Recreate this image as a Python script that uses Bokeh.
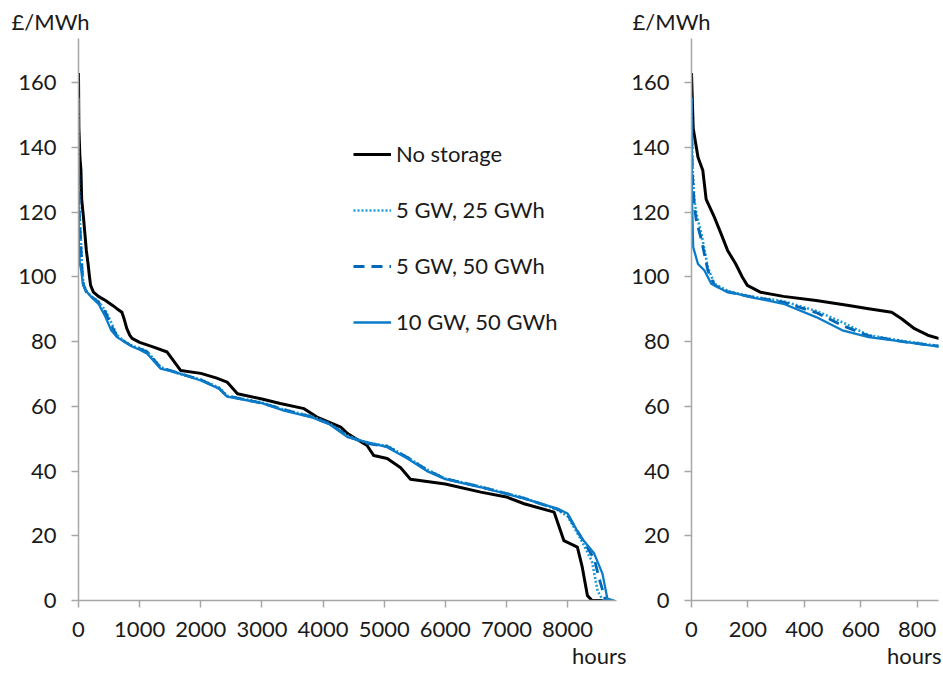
from bokeh.plotting import figure
from bokeh.layouts import row
from bokeh.models import FixedTicker, Range1d, Legend, LegendItem, Title
from bokeh.embed import file_html
from bokeh.resources import INLINE

# ---- data (hours, £/MWh) ----
no_storage_h = [0, 6, 23, 40, 52, 81, 105, 128, 157, 180, 198, 244, 326, 442, 558, 628, 710, 745, 791, 838, 876,
                1000, 1230, 1450, 1670, 2000, 2250, 2430, 2600, 3000, 3300, 3690, 3900, 4290, 4400, 4720, 4830,
                5050, 5270, 5430, 6000, 6580, 7000, 7290, 7780, 7940, 8160, 8240, 8325, 8400, 8620]
no_storage_v = [163, 146, 137, 133, 124, 118.5, 113.3, 108.2, 104, 100, 97.4, 95.3, 94, 92.7, 91.2, 90.2, 89.1, 87.1, 84, 82, 81,
                79.8, 78.3, 76.8, 71.1, 70.2, 68.8, 67.5, 63.9, 62.3, 60.9, 59.3, 56.7, 53.6, 51.6, 47.9, 44.8,
                43.9, 41, 37.5, 36, 33.5, 32, 29.9, 27.3, 18.5, 16.5, 10.3, 1.5, 0, 0]

gw5_25_h = [0, 3, 10, 17, 35, 58, 81, 130, 209, 326, 442, 535, 628, 750, 876, 1000, 1125, 1340, 1600, 2000, 2300, 2430,
            3000, 3360, 3800, 4100, 4400, 4700, 5050, 5380, 5700, 6000, 6580, 7290, 7835, 8000, 8215, 8400, 8490, 8580, 8760]
gw5_25_v = [155, 135, 124, 119.6, 113.4, 103, 97.9, 95.6, 94, 92.5, 89.5, 86, 82, 80.2, 78.7, 78, 77, 72.2, 70.3, 68.3, 65.8, 63.3,
            61.2, 59, 57, 54.8, 51, 48.8, 47.8, 44.3, 40.5, 37.7, 35.2, 31.7, 28, 26, 19, 12, 3, 0, 0]

gw5_50_h = [0, 3, 10, 17, 35, 58, 81, 130, 209, 326, 442, 535, 628, 750, 876, 1000, 1125, 1340, 1600, 2000, 2300, 2430,
            3000, 3360, 3800, 4100, 4400, 4700, 5050, 5380, 5700, 6000, 6580, 7290, 7835, 8000, 8215, 8435, 8530, 8620, 8760]
gw5_50_v = [154, 132, 122, 117.5, 111.5, 102, 97.5, 95.3, 93.9, 92.2, 89, 85, 81.8, 80, 78.6, 77.8, 76.8, 72, 70.5, 68.2, 65.5, 63.2,
            61, 59, 56.8, 54.7, 50.8, 48.6, 47.6, 44.2, 40.3, 37.6, 35.1, 31.6, 28.2, 26.5, 19.8, 12.8, 6, 0, 0]

gw10_50_h = [0, 2, 6, 23, 46, 70, 116, 209, 326, 442, 535, 628, 750, 876, 1000, 1125, 1340, 1600, 2000, 2300, 2430,
             3000, 3360, 3800, 4100, 4400, 4700, 5050, 5380, 5700, 6000, 6580, 7290, 7835, 8000, 8215, 8435, 8570, 8650, 8760]
gw10_50_v = [155.5, 123.6, 109.2, 104, 102, 97.9, 95.8, 93.8, 91.7, 87.6, 83.5, 81.4, 80, 78.5, 77.5, 76.3, 71.7, 70.5, 68, 65.5, 63,
             61, 58.7, 56.7, 54.5, 50.5, 49, 47.4, 43.9, 40, 37.5, 35, 31.5, 28.4, 26.9, 19.6, 14.5, 8.3, 0.6, 0]

series_names = ["No storage", "5 GW, 25 GWh", "5 GW, 50 GWh", "10 GW, 50 GWh"]
y_ticks = [0, 20, 40, 60, 80, 100, 120, 140, 160]
x_ticks_full = [0, 1000, 2000, 3000, 4000, 5000, 6000, 7000, 8000]
x_ticks_zoom = [0, 200, 400, 600, 800]

FONT = "Lato"
FS = "22px"
AXIS_COL = "#a6a6a6"
TXT_COL = "#1a1a1a"

styles = [
    dict(color="#000000", line_width=3.0, line_dash="solid"),
    dict(color="#1f9bd7", line_width=2.6, line_dash="2 2"),
    dict(color="#0068b8", line_width=2.8, line_dash="11 7"),
    dict(color="#0a7bc8", line_width=2.3, line_dash="solid"),
]
data = [(no_storage_h, no_storage_v), (gw5_25_h, gw5_25_v), (gw5_50_h, gw5_50_v), (gw10_50_h, gw10_50_v)]


def make_fig(width, xmax, xticks, border_left, border_right, unit_offset, hours_offset):
    p = figure(width=width, height=672, output_backend="svg", toolbar_location=None,
               x_range=Range1d(0, xmax), y_range=Range1d(0, 173.7),
               min_border_left=border_left, min_border_right=border_right,
               min_border_top=38, min_border_bottom=72)
    p.outline_line_color = None
    p.grid.visible = False
    for ax, ticks in ((p.xaxis[0], xticks), (p.yaxis[0], y_ticks)):
        ax.ticker = FixedTicker(ticks=ticks)
        ax.minor_tick_line_color = None
        ax.axis_line_color = AXIS_COL
        ax.axis_line_width = 1.5
        ax.major_tick_line_color = AXIS_COL
        ax.major_tick_line_width = 1.5
        ax.major_tick_in = 0
        ax.major_tick_out = 7
        ax.major_label_text_font = FONT
        ax.major_label_text_font_size = FS
        ax.major_label_text_color = TXT_COL
    p.xaxis[0].major_label_standoff = 14
    p.yaxis[0].major_label_standoff = 15
    renderers = []
    for (hx, hv), st in zip(data, styles):
        r = p.line(hx, hv, color=st["color"], line_width=st["line_width"], line_dash=st["line_dash"],
                   line_join="round")
        renderers.append(r)
    p.add_layout(Title(text="£/MWh", align="left", offset=unit_offset, standoff=7,
                       text_font=FONT, text_font_size=FS, text_color=TXT_COL,
                       text_font_style="normal"), "above")
    p.add_layout(Title(text="hours", align="right", offset=hours_offset, standoff=0,
                       text_font=FONT, text_font_size=FS, text_color=TXT_COL,
                       text_font_style="normal"), "below")
    return p, renderers


p1, rs = make_fig(628, 8800, x_ticks_full, 78, 12, -67, -10)
legend = Legend(items=[LegendItem(label=n, renderers=[r]) for n, r in zip(series_names, rs)],
                location=(275, 265), orientation="vertical",
                label_text_font=FONT, label_text_font_size=FS, label_text_color=TXT_COL,
                glyph_width=38, glyph_height=24, label_height=24, label_standoff=5,
                spacing=29, padding=0, margin=0,
                border_line_alpha=0, background_fill_alpha=0)
p1.add_layout(legend, "center")

p2, _ = make_fig(314, 876, x_ticks_zoom, 59, 4, -59, -3)

layout = row(p1, p2)
open("out.html", "w").write(file_html(layout, INLINE))
